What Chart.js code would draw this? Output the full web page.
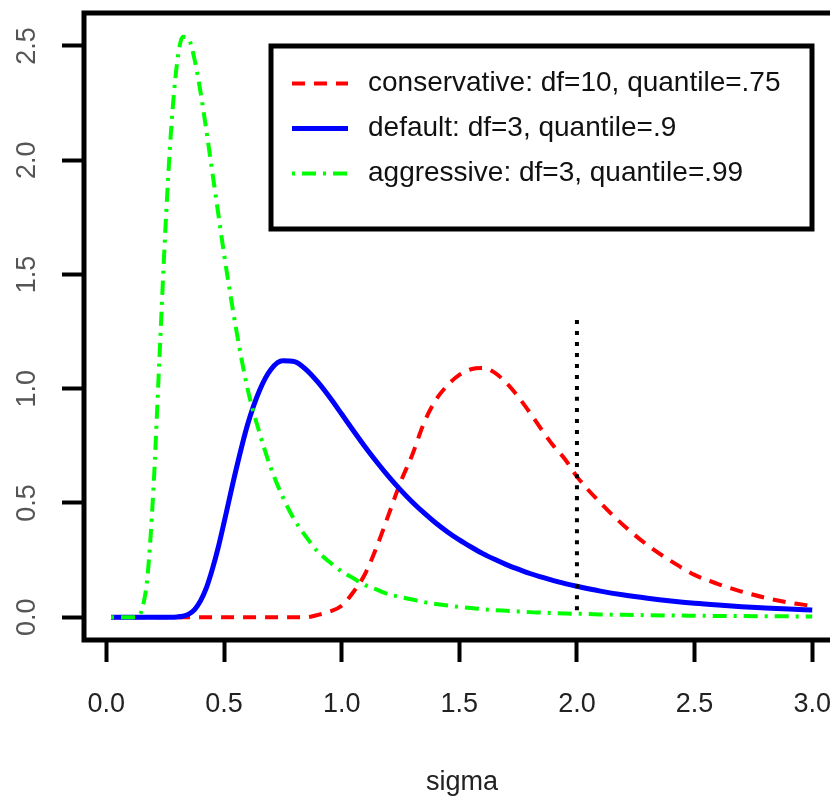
<!DOCTYPE html>
<html>
<head>
<meta charset="utf-8">
<script src="https://cdn.jsdelivr.net/npm/chart.js@4/dist/chart.umd.min.js"></script>
<style>
  html, body { margin: 0; padding: 0; background: #fff; }
  #wrap { width: 830px; height: 797px; overflow: hidden; }
  canvas { display: block; }
</style>
</head>
<body>
<div id="wrap"><canvas id="sigmaPrior" width="850" height="797"></canvas></div>
<script>
// prior densities of sigma, one value per grid point
var SIGMA = [0.02, 0.05, 0.075, 0.1, 0.125, 0.15, 0.175, 0.2, 0.225, 0.25,
    0.275, 0.3, 0.325, 0.35, 0.375, 0.4, 0.425, 0.45, 0.475, 0.5,
    0.55, 0.6, 0.65, 0.7, 0.75, 0.8, 0.85, 0.9, 0.95, 1.0,
    1.05, 1.1, 1.15, 1.2, 1.25, 1.3, 1.35, 1.4, 1.45, 1.5,
    1.55, 1.6, 1.65, 1.7, 1.75, 1.8, 1.85, 1.9, 1.95, 2.0,
    2.1, 2.2, 2.3, 2.4, 2.5, 2.6, 2.7, 2.8, 2.9, 3.0];

var CONSERVATIVE = [0, 0, 0, 0, 0, 0, 0, 0, 0, 0,
    0, 0, 0, 0, 0, 0, 0, 0, 0, 0,
    0, 0, 0, 0, 0, 0, 0, 0.01, 0.025, 0.05,
    0.11, 0.19, 0.31, 0.45, 0.59, 0.71, 0.85, 0.95, 1.015, 1.06,
    1.085, 1.09, 1.07, 1.025, 0.965, 0.895, 0.82, 0.75, 0.69, 0.615,
    0.5, 0.4, 0.315, 0.245, 0.185, 0.145, 0.112, 0.085, 0.064, 0.049];

var DEFAULT_PRIOR = [0, 0, 0, 0, 0, 0, 0, 0, 0, 0,
    0, 0.001, 0.004, 0.013, 0.033, 0.071, 0.128, 0.208, 0.303, 0.413,
    0.64, 0.842, 0.99, 1.085, 1.122, 1.118, 1.082, 1.027, 0.961, 0.889,
    0.816, 0.745, 0.678, 0.615, 0.557, 0.504, 0.456, 0.412, 0.373, 0.338,
    0.307, 0.278, 0.253, 0.23, 0.21, 0.191, 0.175, 0.16, 0.147, 0.135,
    0.114, 0.097, 0.083, 0.071, 0.061, 0.053, 0.046, 0.0405, 0.0355, 0.031];

var AGGRESSIVE = [0, 0, 0, 0, 0, 0.03, 0.18, 0.56, 1.12, 1.68,
    2.13, 2.42, 2.54, 2.53, 2.44, 2.3, 2.13, 1.95, 1.77, 1.59,
    1.27, 1.0, 0.81, 0.65, 0.525, 0.425, 0.35, 0.285, 0.24, 0.2,
    0.17, 0.14, 0.12, 0.1, 0.088, 0.077, 0.066, 0.058, 0.051, 0.045,
    0.04, 0.035, 0.031, 0.028, 0.025, 0.022, 0.02, 0.018, 0.016, 0.015,
    0.012, 0.01, 0.0085, 0.0073, 0.0062, 0.0053, 0.0046, 0.004, 0.0035, 0.003];

// vertical reference at sigma hat, drawn top down so the dots end at the top
var SIGMA_HAT_X = [2.0, 2.0];
var SIGMA_HAT_Y = [1.3, 0];

var X_TICKS = [0, 0.5, 1, 1.5, 2, 2.5, 3];
var Y_TICKS = [0, 0.5, 1, 1.5, 2, 2.5];

var SERIES_NAMES = [
    'conservative: df=10, quantile=.75',
    'default: df=3, quantile=.9',
    'aggressive: df=3, quantile=.99'
];

var FONT = "'Liberation Sans', Arial, Helvetica, sans-serif";

function toPoints(xs, ys) {
    return xs.map(function (x, i) {
        return { x: x, y: ys[i] };
    });
}

function setTicks(values) {
    return function (scale) {
        scale.ticks = values.map(function (v) { return { value: v }; });
    };
}

// box round the plot region
var framePlugin = {
    id: 'frame',
    afterDraw: function (chart) {
        var a = chart.chartArea,
            ctx = chart.ctx;
        ctx.save();
        ctx.lineWidth = 5;
        ctx.strokeStyle = '#000';
        ctx.strokeRect(a.left, a.top, a.right - a.left, a.bottom - a.top);
        ctx.restore();
    }
};

// framed legend in the top right corner
var boxLegendPlugin = {
    id: 'boxLegend',
    afterDraw: function (chart, args, opts) {
        var ctx = chart.ctx;
        ctx.save();
        ctx.lineWidth = 5;
        ctx.strokeStyle = '#000';
        ctx.strokeRect(opts.left, opts.top, opts.width, opts.height);

        ctx.font = opts.fontSize + 'px ' + FONT;
        ctx.textBaseline = 'middle';
        ctx.textAlign = 'left';
        chart.data.datasets.forEach(function (ds, i) {
            if (!ds.label) {
                return;
            }
            var y = opts.firstRow + i * opts.rowGap;
            ctx.beginPath();
            ctx.setLineDash(ds.borderDash || []);
            ctx.lineWidth = ds.borderWidth;
            ctx.strokeStyle = ds.borderColor;
            ctx.moveTo(opts.sampleLeft, y);
            ctx.lineTo(opts.sampleRight, y);
            ctx.stroke();
            ctx.setLineDash([]);
            ctx.fillStyle = '#111';
            ctx.fillText(ds.label, opts.textLeft, y);
        });
        ctx.restore();
    }
};

var lineDefaults = {
    pointRadius: 0,
    pointHoverRadius: 0,
    fill: false,
    cubicInterpolationMode: 'monotone',
    borderCapStyle: 'butt'
};

var datasets = [
    Object.assign({
        label: SERIES_NAMES[0],
        data: toPoints(SIGMA, CONSERVATIVE),
        borderColor: '#ff0000',
        borderWidth: 4,
        borderDash: [13, 9],
        order: 3
    }, lineDefaults),
    Object.assign({
        label: SERIES_NAMES[1],
        data: toPoints(SIGMA, DEFAULT_PRIOR),
        borderColor: '#0000ff',
        borderWidth: 5,
        order: 2
    }, lineDefaults),
    Object.assign({
        label: SERIES_NAMES[2],
        data: toPoints(SIGMA, AGGRESSIVE),
        borderColor: '#00ff00',
        borderWidth: 4,
        borderDash: [3, 7, 14, 7],
        order: 1
    }, lineDefaults),
    Object.assign({
        label: '',
        data: toPoints(SIGMA_HAT_X, SIGMA_HAT_Y),
        borderColor: '#000',
        borderWidth: 4,
        borderDash: [4, 7],
        order: 0
    }, lineDefaults)
];

new Chart(document.getElementById('sigmaPrior').getContext('2d'), {
    type: 'line',
    data: { datasets: datasets },
    plugins: [framePlugin, boxLegendPlugin],
    options: {
        responsive: false,
        animation: false,
        devicePixelRatio: 1,
        layout: { padding: { left: 0, top: 13, right: 10, bottom: 0 } },
        plugins: {
            legend: { display: false },
            tooltip: { enabled: false },
            boxLegend: {
                left: 271, top: 46, width: 541, height: 183,
                firstRow: 83.5, rowGap: 45,
                sampleLeft: 292, sampleRight: 348, textLeft: 368,
                fontSize: 28
            }
        },
        scales: {
            x: {
                type: 'linear',
                min: -0.095,
                max: 3.118,
                afterBuildTicks: setTicks(X_TICKS),
                afterFit: function (scale) {
                    scale.height = 157;
                    scale.paddingLeft = 0;
                    scale.paddingRight = 0;
                },
                grid: {
                    drawOnChartArea: false,
                    tickLength: 22,
                    tickWidth: 4,
                    tickColor: '#000'
                },
                border: { display: false },
                ticks: {
                    autoSkip: false,
                    maxRotation: 0,
                    padding: 26,
                    color: '#222',
                    font: { family: FONT, size: 27 },
                    callback: function (v) { return v.toFixed(1); }
                },
                title: {
                    display: true,
                    text: 'sigma',
                    color: '#222',
                    font: { family: FONT, size: 27 },
                    padding: { top: 0, bottom: -2 }
                }
            },
            y: {
                type: 'linear',
                min: -0.1,
                max: 2.644,
                afterBuildTicks: setTicks(Y_TICKS),
                afterFit: function (scale) {
                    scale.width = 84;
                    scale.paddingTop = 0;
                    scale.paddingBottom = 0;
                },
                grid: {
                    drawOnChartArea: false,
                    tickLength: 22,
                    tickWidth: 4,
                    tickColor: '#000'
                },
                border: { display: false },
                ticks: {
                    autoSkip: false,
                    minRotation: 90,
                    maxRotation: 90,
                    crossAlign: 'center',
                    padding: 16,
                    color: '#555',
                    font: { family: FONT, size: 27 },
                    callback: function (v) { return v.toFixed(1); }
                }
            }
        }
    }
});
</script>
</body>
</html>
